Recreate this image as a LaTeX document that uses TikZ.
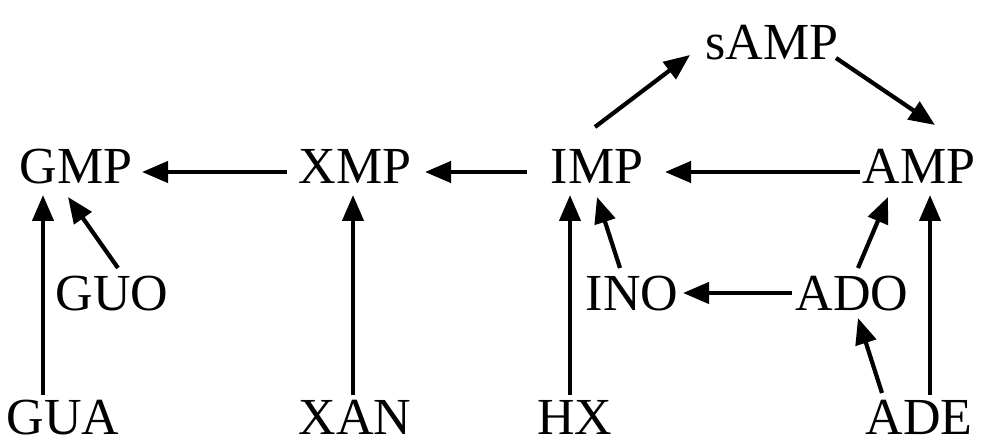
\documentclass[tikz,border=0pt]{standalone}
\usepackage{fontspec}
\setmainfont{Liberation Serif}
\usetikzlibrary{arrows.meta,calc}
\tikzset{
  lbl/.style={inner sep=0pt, anchor=base, font=\fontsize{52}{60}\selectfont},
  arr/.style={line width=4.2pt, -{Triangle[length=26pt,width=21pt]}}
}
\begin{document}
\begin{tikzpicture}[x=1pt,y=-1pt]
\useasboundingbox (0,0) rectangle (988,443);
\node[lbl] (GMP) at (76,184) {GMP};
\node[lbl] (XMP) at (355,184) {XMP};
\node[lbl] (IMP) at (597,184) {IMP};
\node[lbl] (AMP) at (919,184) {AMP};
\node[lbl] (sAMP) at (772,60) {sAMP};
\node[lbl] (GUO) at (112,311) {GUO};
\node[lbl] (INO) at (632,311) {INO};
\node[lbl] (ADO) at (852,311) {ADO};
\node[lbl] (GUA) at (63,435) {GUA};
\node[lbl] (XAN) at (355,435) {XAN};
\node[lbl] (HX) at (575,435) {HX};
\node[lbl] (ADE) at (919,435) {ADE};
\draw[arr] ($(XMP.base)+(-68,-12)$) -- ($(GMP.base)+(66,-12)$);
\draw[arr] ($(IMP.base)+(-70,-12)$) -- ($(XMP.base)+(70,-12)$);
\draw[arr] ($(AMP.base)+(-59,-12)$) -- ($(IMP.base)+(68,-12)$);
\draw[arr] ($(IMP.base)+(-2,-57)$) -- ($(sAMP.base)+(-82,-5)$);
\draw[arr] ($(sAMP.base)+(64,-2)$) -- ($(AMP.base)+(16,-59)$);
\draw[arr] ($(GUA.base)+(-20,-40)$) -- ($(GMP.base)+(-33,11)$);
\draw[arr] ($(GUO.base)+(6,-43)$) -- ($(GMP.base)+(-8,13)$);
\draw[arr] ($(XAN.base)+(-2,-40)$) -- ($(XMP.base)+(-2,11)$);
\draw[arr] ($(HX.base)+(-5,-40)$) -- ($(IMP.base)+(-27,11)$);
\draw[arr] ($(INO.base)+(-12,-43)$) -- ($(IMP.base)+(0,13)$);
\draw[arr] ($(ADO.base)+(-60,-18)$) -- ($(INO.base)+(51,-18)$);
\draw[arr] ($(ADO.base)+(6,-43)$) -- ($(AMP.base)+(-31,13)$);
\draw[arr] ($(ADE.base)+(11,-40)$) -- ($(AMP.base)+(11,11)$);
\draw[arr] ($(ADE.base)+(-37,-42)$) -- ($(ADO.base)+(6,7)$);
\end{tikzpicture}
\end{document}
